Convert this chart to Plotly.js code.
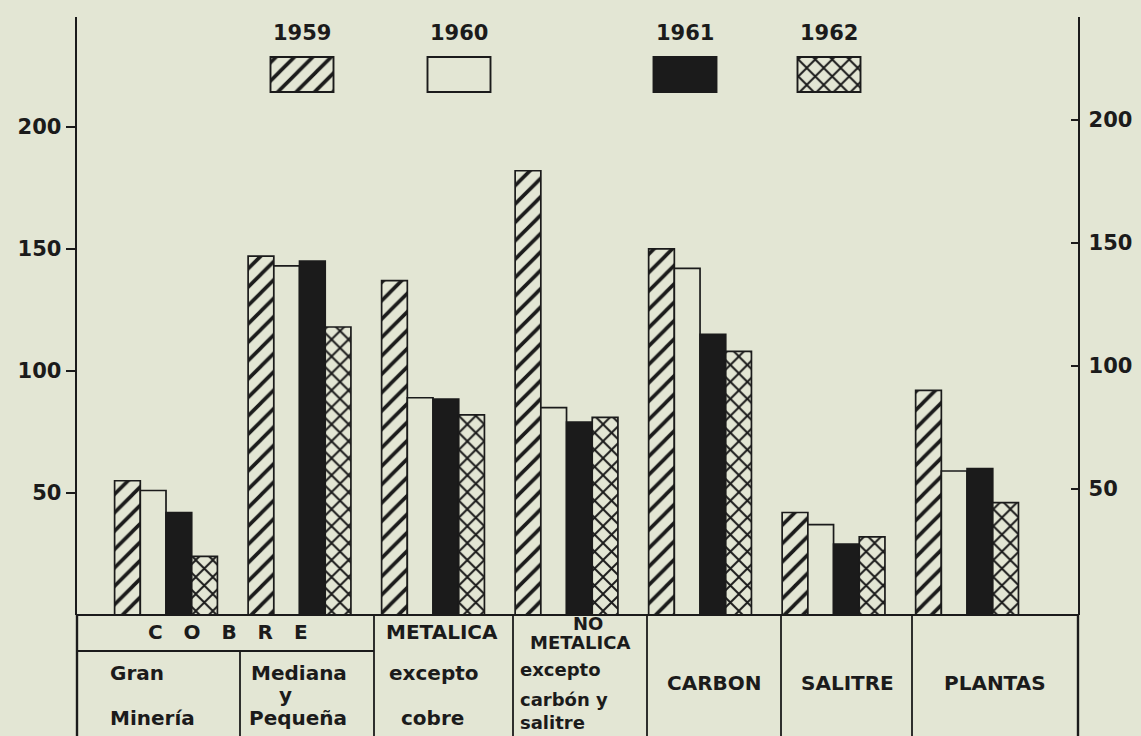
<!DOCTYPE html>
<html>
<head>
<meta charset="utf-8">
<script src="https://cdn.plot.ly/plotly-3.0.1.min.js"></script>
<style>
  html, body { margin: 0; padding: 0; background: #e3e6d4; }
  #chart { width: 1141px; height: 736px; }
</style>
</head>
<body>
<div id="chart"></div>
<script>
// ---- data ----
const categories = ['Gran Minería', 'Mediana y Pequeña', 'METALICA excepto cobre',
  'NO METALICA excepto carbón y salitre', 'CARBON', 'SALITRE', 'PLANTAS'];
const years = ['1959', '1960', '1961', '1962'];
const v1959 = [55, 147, 137, 182, 150, 42, 92];
const v1960 = [51, 143, 89, 85, 142, 37, 59];
const v1961 = [42, 145, 88.5, 79, 115, 29, 60];
const v1962 = [24, 118, 82, 81, 108, 32, 46];
const yTicks = [50, 100, 150, 200];
const yTickText = ['50', '100', '150', '200'];
// table labels
const groupLabel = 'C\u00a0\u00a0\u00a0O\u00a0\u00a0\u00a0B\u00a0\u00a0\u00a0R\u00a0\u00a0\u00a0E';
const granLines = ['Gran', 'Minería'];
const medianaLines = ['Mediana', 'y', 'Pequeña'];
const metalicaLines = ['METALICA', 'excepto', 'cobre'];
const noMetLines = ['NO', 'METALICA', 'excepto', 'carbón y', 'salitre'];
const singleLabels = ['CARBON', 'SALITRE', 'PLANTAS'];

// ---- style / layout helpers ----
const PAPER = '#e3e6d4';
const INK = '#1b1b1b';
const L = 77, R = 1078, T = 17, B = 615;
const px = x => (x - L) / (R - L);
const py = y => (B - y) / (B - T);
const F = 'DejaVu Sans, Arial, sans-serif';

const styles = [
  { color: PAPER, pattern: { shape: '/', fgcolor: INK, bgcolor: PAPER, size: 13, solidity: 0.28, fillmode: 'replace' } },
  { color: PAPER, pattern: { shape: '' } },
  { color: INK, pattern: { shape: '' } },
  { color: PAPER, pattern: { shape: 'x', fgcolor: INK, bgcolor: PAPER, size: 12, solidity: 0.3, fillmode: 'replace' } }
];
const values = [v1959, v1960, v1961, v1962];

const traces = values.map((v, i) => ({
  type: 'bar', name: years[i], x: categories, y: v,
  marker: { color: styles[i].color, pattern: styles[i].pattern, line: { color: INK, width: 1.7 } },
  showlegend: false, hoverinfo: 'x+y'
}));

// dummy trace to show right axis
traces.push({ type: 'scatter', x: [], y: [], yaxis: 'y2', showlegend: false });

// legend swatches (drawn on a pixel overlay axis)
const legendX = [302, 459, 685, 829];
years.forEach((yr, i) => {
  traces.push({
    type: 'bar', x: [legendX[i]], y: [35], base: [57], width: [63], offset: -31.5,
    xaxis: 'x3', yaxis: 'y3', showlegend: false, hoverinfo: 'skip',
    marker: { color: styles[i].color, pattern: styles[i].pattern, line: { color: INK, width: 1.9 } }
  });
});

const shapes = [];
function line(x0, y0, x1, y1, w) {
  shapes.push({ type: 'line', xref: 'paper', yref: 'paper', x0: px(x0), y0: py(y0), x1: px(x1), y1: py(y1),
    line: { color: INK, width: w || 1.8 } });
}
line(L, B, R, B, 2);          // table top
line(L, 651, 374, 651);        // COBRE row divider
line(L, B, L, 736, 2.4);      // left border
line(R, B, R, 736, 2.4);      // right border
[374, 513, 647, 781, 912].forEach(x => line(x, B, x, 736));
line(240, 651, 240, 736);

const annotations = [];
function txt(t, x, y, opts) {
  annotations.push(Object.assign({ text: t, xref: 'paper', yref: 'paper', x: px(x), y: py(y),
    showarrow: false, xanchor: 'center', yanchor: 'middle',
    font: { family: F, size: 20, color: INK, weight: 'bold' } }, opts || {}));
}
const small = { font: { family: F, size: 18, color: INK, weight: 'bold' } };
years.forEach((yr, i) => txt(yr, legendX[i], 33, { font: { family: F, size: 21, color: INK, weight: 'bold' } }));
txt(groupLabel, 228, 632);
txt(metalicaLines[0], 442, 632);
txt(metalicaLines[1], 434, 673);
txt(metalicaLines[2], 432, 718);
txt(granLines[0], 108, 673, { xanchor: 'left' });
txt(granLines[1], 108, 718, { xanchor: 'left' });
txt(medianaLines[0], 299, 673);
txt(medianaLines[1], 285, 695);
txt(medianaLines[2], 298, 718);
txt(noMetLines[0], 588, 623, small);
txt(noMetLines[1], 580, 642, small);
txt(noMetLines[2], 518, 669, Object.assign({ xanchor: 'left' }, small));
txt(noMetLines[3], 518, 699, Object.assign({ xanchor: 'left' }, small));
txt(noMetLines[4], 518, 723, Object.assign({ xanchor: 'left' }, small));
txt(singleLabels[0], 714, 683);
txt(singleLabels[1], 847, 683);
txt(singleLabels[2], 995, 683);

const tickFont = { family: F, size: 21, color: INK, weight: 'bold' };

const layout = {
  width: 1141, height: 736,
  margin: { l: L, r: 1141 - R, t: T, b: 736 - B, pad: 0 },
  paper_bgcolor: PAPER, plot_bgcolor: PAPER,
  barmode: 'group', bargap: 0.23, bargroupgap: 0,
  showlegend: false,
  xaxis: {
    type: 'category', categoryorder: 'array', categoryarray: categories,
    range: [-0.6667, 6.831], showticklabels: false, ticks: '', showline: false,
    showgrid: false, zeroline: false, fixedrange: true
  },
  yaxis: {
    range: [0, 245], tickvals: yTicks, ticktext: yTickText, ticks: 'outside', ticklen: 9,
    tickwidth: 2, tickcolor: INK, showline: true, linecolor: INK, linewidth: 2.4,
    showgrid: false, zeroline: false, tickfont: tickFont, fixedrange: true
  },
  yaxis2: {
    overlaying: 'y', side: 'right', anchor: 'x', range: [-1.2, 241.9],
    tickvals: yTicks, ticktext: yTickText, ticks: 'inside', ticklen: 7, tickwidth: 2, tickcolor: INK,
    showline: true, linecolor: INK, linewidth: 2.4, showgrid: false, zeroline: false,
    tickfont: tickFont, ticklabelstandoff: 4, fixedrange: true
  },
  xaxis3: { overlaying: 'x', anchor: 'y3', range: [L, R], visible: false, fixedrange: true },
  yaxis3: { overlaying: 'y', anchor: 'x3', range: [B, T], visible: false, fixedrange: true },
  shapes: shapes,
  annotations: annotations
};

Plotly.newPlot('chart', traces, layout, { displayModeBar: false, staticPlot: true });
</script>
</body>
</html>
